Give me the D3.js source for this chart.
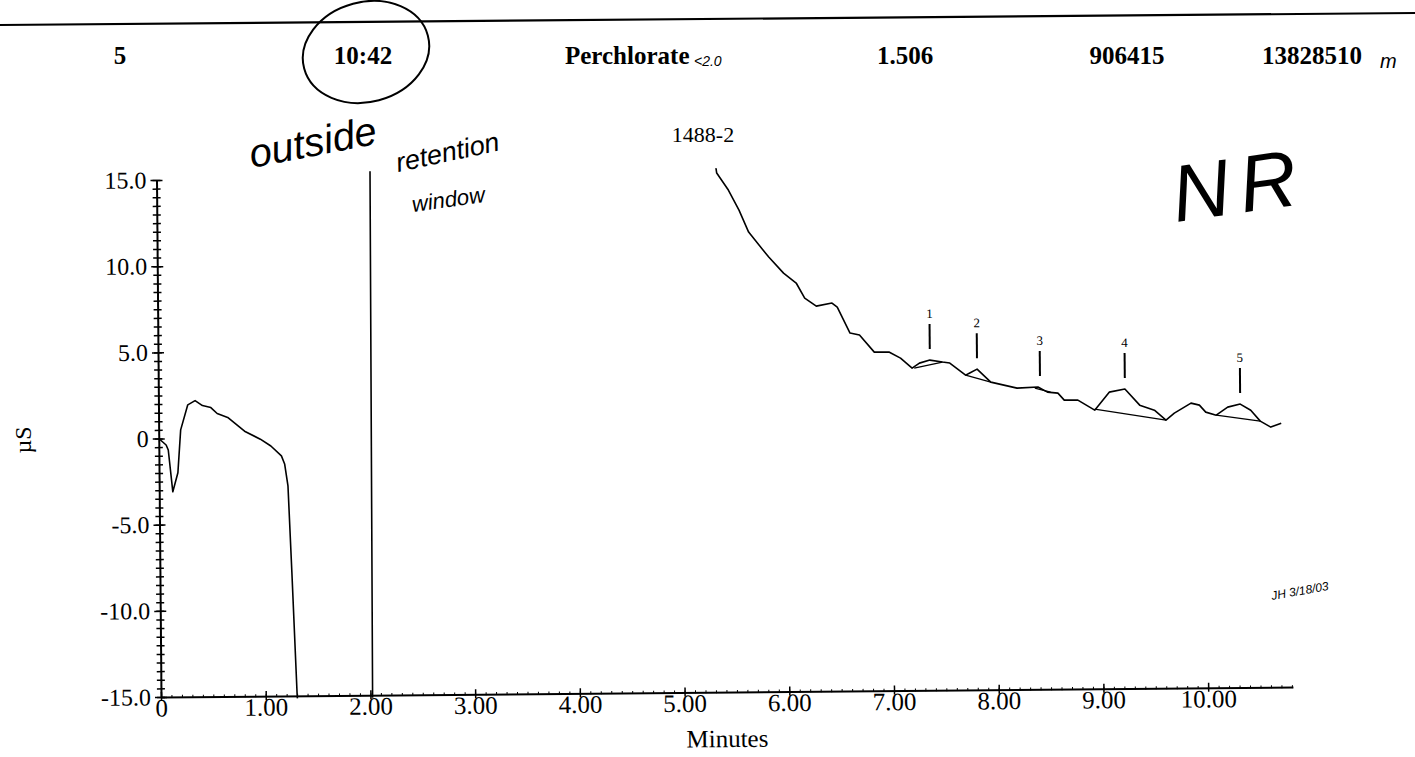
<!DOCTYPE html>
<html>
<head>
<meta charset="utf-8">
<script src="https://cdn.jsdelivr.net/npm/d3@7/dist/d3.min.js"></script>
<style>
  body { margin: 0; background: #fff; }
  svg { display: block; font-family: "Liberation Serif", "Times New Roman", serif; }
  .trace { fill: none; stroke: #000; stroke-width: 1.6; stroke-linejoin: round; }
  .base { fill: none; stroke: #000; stroke-width: 1.2; }
  .hand { font-family: "Liberation Sans", sans-serif; font-style: italic; fill: #000; }
</style>
</head>
<body>
<script>
// chromatogram trace (minutes, µS)
var traceTime = [0, 0.07, 0.09, 0.13, 0.18, 0.21, 0.28, 0.35, 0.42, 0.50, 0.56, 0.66, 0.82, 0.97, 1.07, 1.17, 1.20, 1.23, 1.26, 1.30, 1.31,
  2.02, 2.04, 5.33,
  5.35, 5.46, 5.56, 5.65, 5.84, 5.98, 6.10, 6.18, 6.29, 6.44, 6.49, 6.61, 6.70, 6.84, 6.98, 7.09, 7.20, 7.27, 7.37, 7.49, 7.56,
  7.71, 7.75, 7.82, 7.95, 8.20, 8.40, 8.49, 8.59, 8.65, 8.78, 8.94, 9.08, 9.23, 9.37, 9.51, 9.62, 9.70, 9.86, 9.94, 10.00,
  10.10, 10.21, 10.33, 10.43, 10.52, 10.62, 10.72];
var traceValue = [0, -0.38, -0.67, -3.1, -2.0, 0.49, 1.94, 2.18, 1.89, 1.77, 1.42, 1.19, 0.38, -0.09, -0.49, -1.07, -1.54, -2.81, -7.8, -14.9, -16,
  -16, 16, 16,
  15.12, 14.13, 12.96, 11.68, 10.22, 9.28, 8.70, 7.82, 7.35, 7.52, 7.28, 5.77, 5.65, 4.65, 4.65, 4.29, 3.70, 3.99, 4.16, 4.04, 3.98,
  3.27, 3.39, 3.61, 2.85, 2.49, 2.54, 2.24, 2.18, 1.77, 1.76, 1.17, 2.21, 2.38, 1.44, 1.14, 0.56, 0.96, 1.53, 1.41, 1.00,
  0.82, 1.28, 1.45, 1.09, 0.45, 0.10, 0.32];

// integration baselines
var baseStartTime = [7.22, 7.71, 8.37, 8.94, 10.10];
var baseStartValue = [3.70, 3.27, 2.48, 1.23, 0.82];
var baseEndTime = [7.49, 7.95, 8.52, 9.62, 10.52];
var baseEndValue = [4.04, 2.85, 2.24, 0.56, 0.45];

// peak markers
var peakIds = ["1", "2", "3", "4", "5"];
var peakTimes = [7.37, 7.82, 8.42, 9.23, 10.33];
var peakHeights = [4.16, 3.61, 2.54, 2.38, 1.45];

var yTicks = [-15, -10, -5, 0, 5, 10, 15];
var xTicks = [0, 1, 2, 3, 4, 5, 6, 7, 8, 9, 10];

// header row of the peak table
var headerText = ["5", "10:42", "Perchlorate", "1.506", "906415", "13828510"];
var headerX = [120, 363, 565, 905, 1127, 1262];

var W = 1415, H = 757;
var svg = d3.select("body").append("svg").attr("width", W).attr("height", H);

// header line + text
svg.append("line").attr("x1", 0).attr("y1", 25).attr("x2", W).attr("y2", 13)
  .attr("stroke", "#000").attr("stroke-width", 2.2);
svg.selectAll("text.head").data(headerText).enter().append("text")
  .attr("class", "head")
  .attr("x", (d, i) => headerX[i])
  .attr("y", 64)
  .attr("text-anchor", (d, i) => (i == 2 || i == 5) ? "start" : "middle")
  .attr("font-size", 25).attr("font-weight", "bold")
  .text(d => d);

// hand notes
svg.append("text").attr("class", "hand").attr("x", 694).attr("y", 66).attr("font-size", 14).text("<2.0");
svg.append("text").attr("class", "hand").attr("x", 1380).attr("y", 68).attr("font-size", 20).text("m");
svg.append("ellipse").attr("cx", 366).attr("cy", 52).attr("rx", 64).attr("ry", 50)
  .attr("transform", "rotate(-15,366,52)")
  .attr("fill", "none").attr("stroke", "#000").attr("stroke-width", 2);

svg.append("text").attr("x", 703).attr("y", 142).attr("text-anchor", "middle")
  .attr("font-size", 22).text("1488-2");

svg.append("text").attr("class", "hand").attr("font-size", 40)
  .attr("transform", "translate(252,168) rotate(-11)").text("outside");
svg.append("text").attr("class", "hand").attr("font-size", 27)
  .attr("transform", "translate(398,172) rotate(-12)").text("retention");
svg.append("text").attr("class", "hand").attr("font-size", 22)
  .attr("transform", "translate(413,212) rotate(-8)").text("window");
svg.append("text").attr("class", "hand").attr("font-size", 80).attr("letter-spacing", 10)
  .attr("transform", "translate(1176,222) rotate(-8)").text("NR");
svg.append("text").attr("class", "hand").attr("font-size", 12)
  .attr("transform", "translate(1272,600) rotate(-10)").text("JH 3/18/03");

// chart (scan is slightly tilted)
var x = d3.scaleLinear().domain([0, 10.81]).range([161, 1293]);
var y = d3.scaleLinear().domain([-15, 15]).range([697, 180]);

var g = svg.append("g").attr("transform", "rotate(-0.5,161,697)");

// y axis
var ya = g.append("g").attr("transform", "translate(" + x(0) + ",0)");
ya.call(d3.axisLeft(y).tickValues(d3.range(-15, 15.01, 0.5)).tickSize(4).tickSizeOuter(0).tickFormat(""));
ya.selectAll(".tick line").attr("x1", 4).attr("stroke-width", 1.5);
ya.select(".domain").attr("stroke-width", 2);
ya.append("g").call(d3.axisLeft(y).tickValues(yTicks).tickSize(6).tickSizeOuter(0)
    .tickFormat(d => d == 0 ? "0" : d.toFixed(1)))
  .call(s => s.select(".domain").remove())
  .call(s => s.selectAll(".tick line").attr("x1", 6).attr("stroke-width", 1.5))
  .call(s => s.selectAll("text").attr("font-size", 24).attr("font-family", "Liberation Serif").attr("fill", "#000").attr("dx", "-1px"));

// x axis
var xa = g.append("g").attr("transform", "translate(0," + y(-15) + ")");
xa.call(d3.axisBottom(x).tickValues(d3.range(0, 10.81, 0.1)).tickSize(3).tickSizeOuter(0).tickFormat(""));
xa.selectAll(".tick line").attr("y1", -2).attr("y2", 1);
xa.select(".domain").attr("stroke-width", 2);
xa.append("g").call(d3.axisBottom(x).tickValues(xTicks).tickSize(4).tickSizeOuter(0)
    .tickFormat(d => d == 0 ? "0" : d.toFixed(2)))
  .call(s => s.select(".domain").remove())
  .call(s => s.selectAll(".tick line").attr("y1", -5).attr("stroke-width", 1.5))
  .call(s => s.selectAll("text").attr("font-size", 25).attr("font-family", "Liberation Serif").attr("fill", "#000").attr("dy", "0.5em"));

g.append("text").attr("x", 727).attr("y", 752).attr("text-anchor", "middle")
  .attr("font-size", 25).text("Minutes");
svg.append("text").attr("transform", "translate(31,440) rotate(-90)").attr("text-anchor", "middle")
  .attr("font-size", 24).text("µS");

// trace
g.append("clipPath").attr("id", "plotclip").append("rect")
  .attr("x", x(0)).attr("y", y(15.4)).attr("width", x(10.81) - x(0)).attr("height", y(-15.15) - y(15.4));
var line = d3.line().x(i => x(traceTime[i])).y(i => y(traceValue[i]));
g.append("path").attr("class", "trace").attr("clip-path", "url(#plotclip)")
  .attr("d", line(d3.range(traceTime.length)));

// baselines
g.selectAll("line.base").data(peakIds).enter().append("line").attr("class", "base")
  .attr("x1", (d, i) => x(baseStartTime[i])).attr("y1", (d, i) => y(baseStartValue[i]))
  .attr("x2", (d, i) => x(baseEndTime[i])).attr("y2", (d, i) => y(baseEndValue[i]));

// peak markers
var pk = g.selectAll("g.peak").data(peakIds).enter().append("g").attr("class", "peak")
  .attr("transform", (d, i) => "translate(" + x(peakTimes[i]) + "," + y(peakHeights[i]) + ")");
pk.append("line").attr("y1", -11).attr("y2", -36).attr("stroke", "#000").attr("stroke-width", 2);
pk.append("text").attr("y", -42).attr("text-anchor", "middle").attr("font-size", 13).text(d => d);
</script>
</body>
</html>
